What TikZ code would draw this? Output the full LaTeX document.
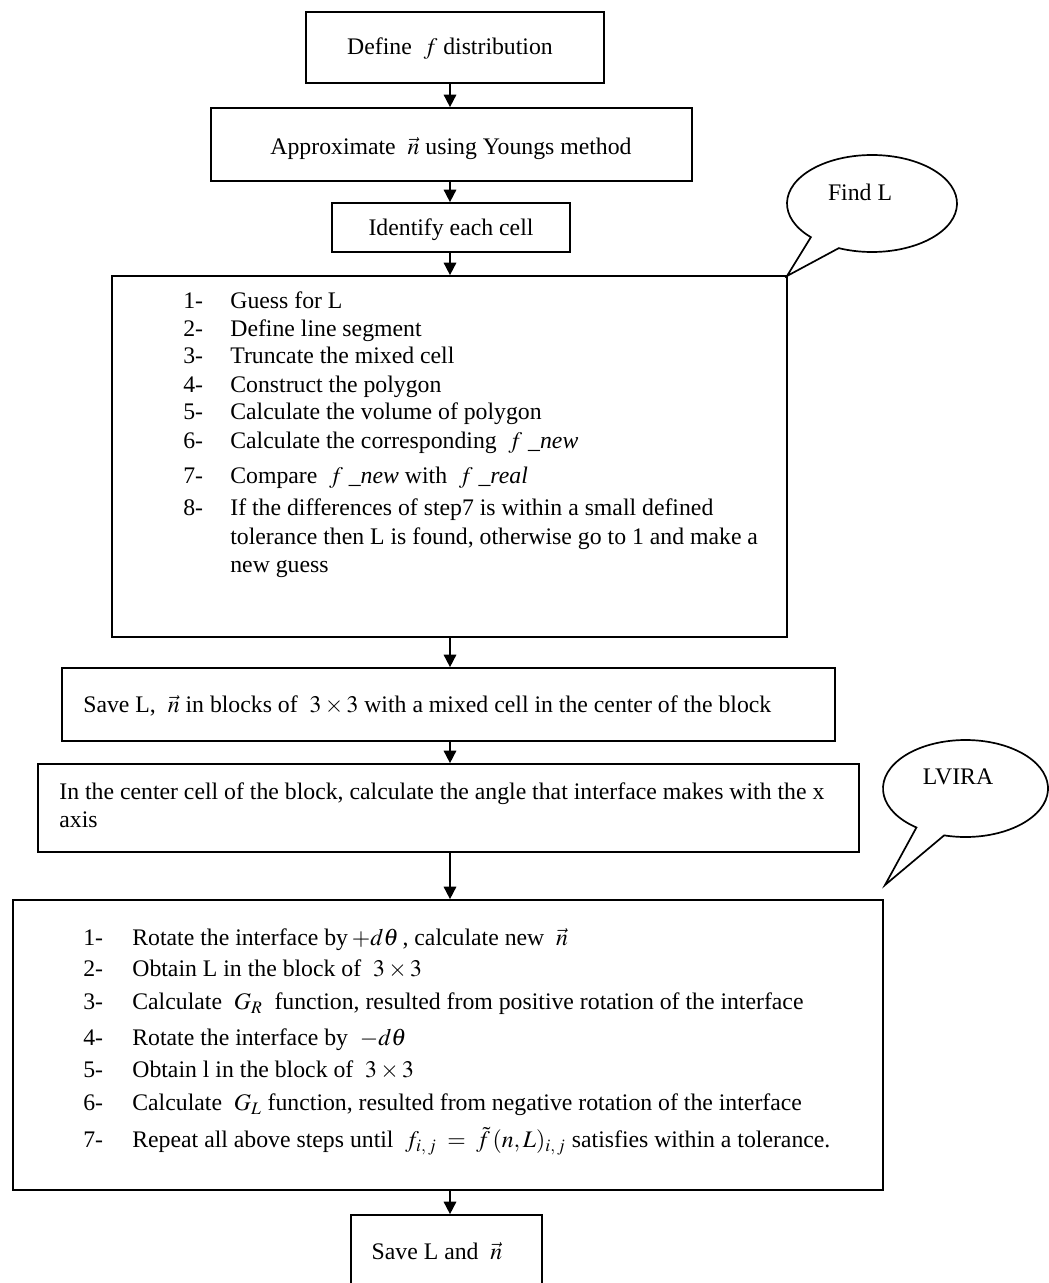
\documentclass[tikz,border=0pt]{standalone}
\usepackage{mathptmx}
\usepackage{fontspec}
\setmainfont{Liberation Serif}
\usetikzlibrary{arrows.meta,calc}
\def\pxs{0.56}
\newcommand\fs{\fontsize{13.3}{15}\selectfont}
\newcommand\boxnode[5]{\node[boxst, minimum width={(#4-#2)*\pxs pt}, minimum height={(#5-#3)*\pxs pt}] (#1) at ({(#2+#4)/2},{(#3+#5)/2}) {};}
\begin{document}
\begin{tikzpicture}[x=0.56pt,y=-0.56pt,
  boxst/.style={draw, line width=0.95pt, inner sep=0pt},
  arr/.style={line width=0.95pt, -{Triangle[length=7pt,width=7pt]}},
  txt/.style={inner sep=0pt, anchor=west, font=\fs, text height=8.5pt, text depth=0pt},
  ctxt/.style={inner sep=0pt, anchor=center, font=\fs, text height=8.5pt, text depth=0pt},
  bubble/.style={draw, line width=0.95pt, fill=white, line join=miter}]
\useasboundingbox (0,0) rectangle (1049,1283);
\clip (0,0) rectangle (1049,1283);
% boxes
\boxnode{b1}{306}{12}{604}{83}
\boxnode{b2}{211}{108}{692}{181}
\boxnode{b3}{332}{203}{570}{252}
\boxnode{b4}{112}{276}{787}{637}
\boxnode{b5}{62}{668}{835}{741}
\boxnode{b6}{38}{764}{859}{852}
\boxnode{b7}{13}{900}{883}{1190}
\boxnode{b8}{351}{1215}{542}{1320}
% connectors
\coordinate (ax) at (450,0);
\draw[arr] (b1.south -| ax) -- (b2.north -| ax);
\draw[arr] (b2.south -| ax) -- (b3.north -| ax);
\draw[arr] (b3.south -| ax) -- (b4.north -| ax);
\draw[arr] (b4.south -| ax) -- (b5.north -| ax);
\draw[arr] (b5.south -| ax) -- (b6.north -| ax);
\draw[arr] (b6.south -| ax) -- (b7.north -| ax);
\draw[arr] (b7.south -| ax) -- (b8.north -| ax);
% texts of simple boxes
\node[ctxt] (t1) at (450,47) {Define \ $f$ distribution};
\node[ctxt] (t2) at (451,147) {Approximate \ $\vec{n}$ using Youngs method};
\node[ctxt] (t3) at (451,228) {Identify each cell};
\node[txt] (t5) at (83,705) {Save L, \ $\vec{n}$ in blocks of \ $3\times3$ with a mixed cell in the center of the block};
\node[txt] (t6a) at (59,792) {In the center cell of the block, calculate the angle that interface makes with the x};
\node[txt] (t6b) at (59,820) {axis};
\node[ctxt] (t8) at (437,1252) {Save L and \ $\vec{n}$};
% list in box 4
\foreach \k/\y in {1/301,2/329,3/356,4/385,5/412,6/441,7/476,8/508}{
  \node[txt] (n4-\k) at (183,\y) {\k-};
}
\node[txt] (i4-1) at (230,301) {Guess for L};
\node[txt] (i4-2) at (230,329) {Define line segment};
\node[txt] (i4-3) at (230,356) {Truncate the mixed cell};
\node[txt] (i4-4) at (230,385) {Construct the polygon};
\node[txt] (i4-5) at (230,412) {Calculate the volume of polygon};
\node[txt] (i4-6) at (230,441) {Calculate the corresponding \ $f$ \_\textit{new}};
\node[txt] (i4-7) at (230,476) {Compare \ $f$ \_\textit{new} with \ $f$ \_\textit{real}};
\node[txt] (i4-8a) at (230,508) {If the differences of step7 is within a small defined};
\node[txt] (i4-8b) at (230,537) {tolerance then L is found, otherwise go to 1 and make a};
\node[txt] (i4-8c) at (230,565) {new guess};
% list in box 7
\foreach \k/\y in {1/938,2/969,3/1002,4/1038,5/1070,6/1103,7/1140}{
  \node[txt] (n7-\k) at (83,\y) {\k-};
}
\node[txt] (i7-1) at (132,938) {Rotate the interface by\,$+d\theta$\,, calculate new \ $\vec{n}$};
\node[txt] (i7-2) at (132,969) {Obtain L in the block of \ $3\times3$};
\node[txt] (i7-3) at (132,1002) {Calculate \ $G_R$ \ function, resulted from positive rotation of the interface};
\node[txt] (i7-4) at (132,1038) {Rotate the interface by \ $-d\theta$};
\node[txt] (i7-5) at (132,1070) {Obtain l in the block of \ $3\times3$};
\node[txt] (i7-6) at (132,1103) {Calculate \ $G_L$ function, resulted from negative rotation of the interface};
\node[txt] (i7-7) at (132,1140) {Repeat all above steps until \ $f_{i,\,j}\;=\;\tilde{f}\,(n,L)_{i,\,j}$ satisfies within a tolerance.};
% callout Find L
\coordinate (c1) at (872,203.5);
\coordinate (tip1) at (787,276);
\draw[bubble] (tip1) -- ($(c1)+(136:85 and 48.5)$) arc[start angle=136, end angle=473, x radius=85, y radius=48.5] -- cycle;
\node[ctxt] (fl) at (860,193) {Find L};
% callout LVIRA
\coordinate (c2) at (965.5,788.5);
\coordinate (tip2) at (885,885);
\draw[bubble] (tip2) -- ($(c2)+(126.5:82.5 and 48.5)$) arc[start angle=126.5, end angle=465, x radius=82.5, y radius=48.5] -- cycle;
\node[ctxt] (lv) at (958,777) {LVIRA};
\end{tikzpicture}
\end{document}
